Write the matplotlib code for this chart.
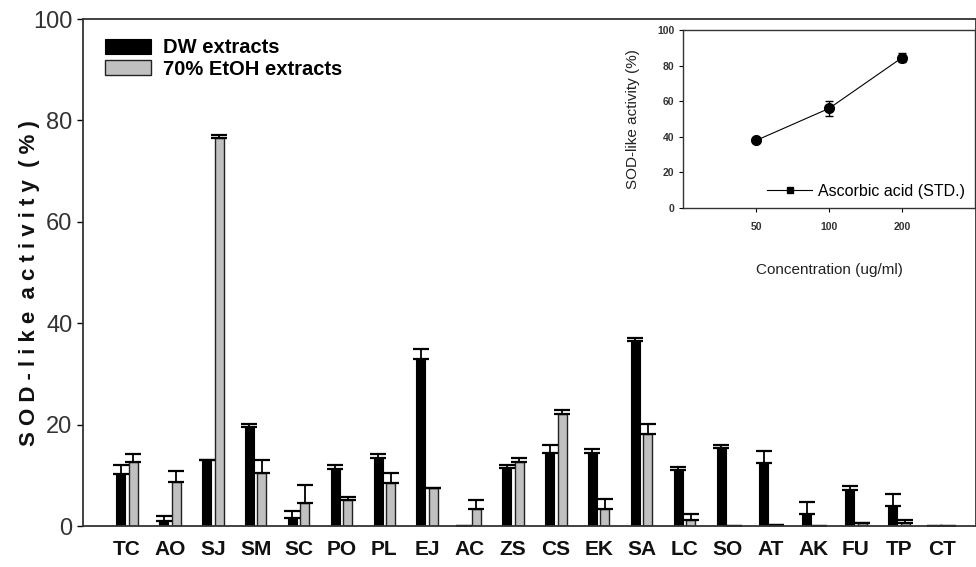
import matplotlib
matplotlib.use('Agg')
import matplotlib.pyplot as plt
from matplotlib.lines import Line2D
import numpy as np

plt.rcParams['font.family'] = ['Liberation Sans', 'DejaVu Sans']

# samples and SOD-like activity (%)
samples = ['TC', 'AO', 'SJ', 'SM', 'SC', 'PO', 'PL', 'EJ', 'AC', 'ZS',
           'CS', 'EK', 'SA', 'LC', 'SO', 'AT', 'AK', 'FU', 'TP', 'CT']
dw_mean = [10.2, 0.9, 13.0, 19.6, 1.5, 11.2, 13.4, 32.9, 0.0, 11.4,
           14.5, 14.5, 36.5, 11.0, 15.4, 12.4, 2.4, 7.2, 3.9, 0.0]
dw_err = [1.8, 1.1, 0.1, 0.6, 1.5, 0.8, 0.8, 2.0, 0.0, 0.6,
          1.5, 0.6, 0.6, 0.6, 0.6, 2.3, 2.3, 0.6, 2.4, 0.0]
etoh_mean = [12.7, 8.7, 76.5, 10.5, 4.5, 5.1, 8.4, 7.4, 3.3, 12.7,
             22.1, 3.3, 18.1, 1.1, 0.0, 0.2, 0.0, 0.5, 0.5, 0.0]
etoh_err = [1.5, 2.1, 0.7, 2.5, 3.6, 0.6, 2.1, 0.1, 1.8, 0.8,
            0.8, 2.1, 2.1, 1.2, 0.0, 0.0, 0.0, 0.0, 0.6, 0.0]

# inset: ascorbic acid standard
conc_labels = ['50', '100', '200']
std_mean = [38, 56, 84.5]
std_err = [1.0, 4.0, 2.5]

fig = plt.figure(figsize=(9.76, 5.67), dpi=100)
ax = fig.add_axes([0.085, 0.0723, 0.915, 0.894])

x = np.arange(len(samples))
w = 0.21
off = 0.146
zeros = np.zeros(len(samples))
ax.bar(x - off, dw_mean, w, color='black', edgecolor='black', linewidth=0.8,
       label='DW extracts')
ax.errorbar(x - off, dw_mean, yerr=[zeros, dw_err], fmt='none', ecolor='black',
            elinewidth=1.3, capsize=6, capthick=1.6)
ax.bar(x + off, etoh_mean, w, color='#c0c0c0', edgecolor='#222222', linewidth=1.0,
       label='70% EtOH extracts')
ax.errorbar(x + off, etoh_mean, yerr=[zeros, etoh_err], fmt='none', ecolor='black',
            elinewidth=1.3, capsize=6, capthick=1.6)

ax.set_xlim(-1.03, 19.8)
ax.set_ylim(0, 100)
ax.set_xticks(x)
ax.set_xticklabels(samples, fontsize=15, fontweight='bold', color='#111111')
ax.tick_params(axis='x', length=0, pad=10)
ax.set_yticks([0, 20, 40, 60, 80, 100])
ax.tick_params(axis='y', labelsize=17, length=4, direction='out', width=1,
               labelcolor='#333333')
ax.set_ylabel('S O D - l i k e  a c t i v i t y  ( % )', fontsize=16,
              fontweight='bold', color='#111111')
ax.yaxis.set_label_coords(-0.048, 0.479)
for s in ax.spines.values():
    s.set_linewidth(1.3)
    s.set_color('#333333')
ax.legend(loc='upper left', bbox_to_anchor=(0.009, 0.99), frameon=False,
          handlelength=2.3, handleheight=0.75, handletextpad=0.6,
          labelspacing=0.12, borderaxespad=0.3, prop={'weight': 'bold', 'size': 14.5})

# inset
ins = fig.add_axes([0.700, 0.633, 0.299, 0.314])
xi = np.arange(1, len(conc_labels) + 1)
ins.errorbar(xi, std_mean, yerr=std_err, fmt='-o', color='black', markersize=7,
             linewidth=0.8, elinewidth=1, capsize=3)
ins.set_xlim(0, 4)
ins.set_ylim(0, 100)
ins.set_xticks(xi)
ins.set_xticklabels(conc_labels, fontsize=7.5, fontweight='bold', color='#333333')
ins.set_yticks([0, 20, 40, 60, 80, 100])
for lab in ins.get_yticklabels():
    lab.set_fontsize(7.5)
    lab.set_fontweight('bold')
    lab.set_color('#333333')
ins.tick_params(axis='y', length=3)
ins.tick_params(axis='x', length=3, pad=7)
ins.set_xlabel('Concentration (ug/ml)', fontsize=11, labelpad=22, color='#222222')
ins.set_ylabel('SOD-like activity (%)', fontsize=11, labelpad=12, color='#222222')
for s in ins.spines.values():
    s.set_linewidth(1.0)
    s.set_color('#333333')
handle = Line2D([], [], color='black', linewidth=0.8, marker='s', markersize=4)
ins.legend([handle], ['Ascorbic acid (STD.)'], loc='lower right', frameon=False,
           fontsize=11.5, handlelength=2.8, borderaxespad=0.2, handletextpad=0.4)

fig.savefig('out.png', dpi=100)
